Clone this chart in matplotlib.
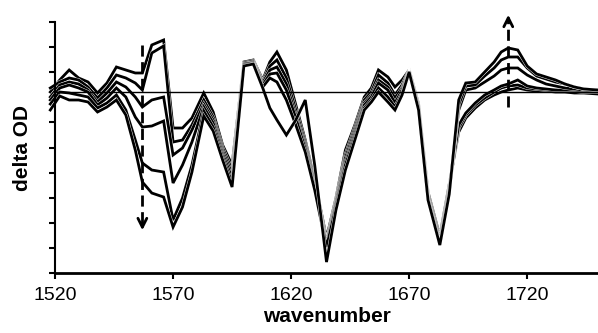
import numpy as np
import matplotlib
matplotlib.use('Agg')
import matplotlib.pyplot as plt
import matplotlib.patheffects as pe

plt.rcParams['font.family'] = ['Liberation Sans', 'DejaVu Sans']

# wavenumber of each data point (cm-1)
wavenumber = [1518, 1522, 1526, 1530, 1534, 1538, 1542, 1546, 1550, 1554,
              1557, 1561, 1566, 1570, 1574, 1578, 1583, 1587, 1591, 1595,
              1600, 1604, 1608, 1611, 1614, 1618, 1622, 1626, 1630, 1635,
              1639, 1643, 1647, 1651, 1654, 1657, 1661, 1664, 1667, 1670,
              1674, 1678, 1683, 1687, 1691, 1694, 1698, 1702, 1706, 1709,
              1712, 1716, 1720, 1724, 1728, 1732, 1736, 1740, 1744, 1750]

# difference spectra (arbitrary units)
spec1 = [0.0, 1.2, 2.2, 1.4, 1.0, -0.1, 0.9, 2.5, 2.2, 1.9,
         1.9, 4.7, 5.2, -3.6, -3.6, -2.6, -0.1, -2.0, -5.3, -7.3,
         3.0, 3.2, 1.2, 3.0, 4.0, 2.2, -1.3, -4.8, -8.8, -14.6,
         -10.6, -5.8, -3.3, -0.5, 0.4, 2.2, 1.5, 0.5, 1.2, 2.2,
         -1.2, -10.0, -14.4, -9.2, -4.0, -2.6, -1.6, -0.8, -0.3, 0.0,
         0.2, 0.4, 0.2, 0.1, 0.1, 0.0, 0.0, -0.1, -0.1, -0.2]
spec2 = [0.4, 1.0, 1.4, 1.2, 0.5, -0.6, 0.4, 1.7, 1.4, 0.9,
         0.2, 3.9, 4.6, -5.0, -4.8, -3.3, -0.8, -2.5, -5.6, -7.8,
         2.9, 3.1, 1.0, 2.6, 3.2, 1.4, -1.8, -5.1, -9.0, -15.0,
         -10.8, -6.3, -3.6, -0.8, 0.0, 1.7, 0.9, -0.3, 0.7, 2.2,
         -1.3, -10.2, -14.6, -9.4, -3.6, -2.3, -1.3, -0.6, 0.0, 0.4,
         0.6, 0.7, 0.4, 0.3, 0.2, 0.1, 0.1, 0.1, 0.0, 0.0]
spec3 = [-0.5, 0.7, 1.0, 0.8, 0.2, -1.0, -0.1, 1.0, 0.5, -0.5,
         -1.5, -0.8, -0.5, -6.3, -5.6, -3.8, -1.2, -2.8, -5.9, -8.2,
         2.8, 3.0, 0.9, 2.2, 2.5, 0.8, -2.3, -5.4, -9.3, -15.1,
         -11.0, -6.6, -3.9, -1.1, -0.3, 1.2, 0.5, -0.6, 0.4, 2.1,
         -1.4, -10.4, -14.8, -9.6, -3.3, -2.1, -1.1, -0.3, 0.2, 0.6,
         0.8, 1.2, 0.6, 0.4, 0.3, 0.2, 0.2, 0.2, 0.1, 0.1]
spec4 = [-0.8, 0.4, 0.7, 0.4, 0.0, -1.3, -0.6, 0.4, -0.5, -2.5,
         -3.5, -3.4, -2.9, -9.1, -7.3, -5.0, -1.5, -3.1, -6.2, -8.6,
         2.8, 2.9, 0.7, 1.8, 1.9, 0.2, -2.6, -5.7, -9.6, -15.3,
         -11.2, -7.0, -4.2, -1.3, -0.5, 0.9, 0.2, -1.1, 0.2, 2.1,
         -1.5, -10.6, -15.0, -9.8, -1.8, 0.2, 0.4, 1.0, 1.6, 2.2,
         2.4, 2.4, 1.7, 1.2, 0.8, 0.6, 0.4, 0.3, 0.2, 0.1]
spec5 = [-1.2, 0.0, -0.1, -0.3, -0.5, -1.6, -1.1, -0.3, -1.8, -4.8,
         -7.1, -7.8, -8.0, -12.8, -10.6, -7.3, -1.9, -3.5, -6.5, -9.1,
         2.7, 2.8, 0.5, 1.4, 1.0, -0.8, -3.3, -6.0, -9.8, -15.5,
         -11.5, -7.3, -4.5, -1.6, -0.8, 0.4, -0.5, -1.5, -0.1, 2.0,
         -1.6, -10.7, -15.2, -10.0, -1.3, 0.6, 0.7, 1.6, 2.4, 3.2,
         3.5, 3.5, 2.4, 1.6, 1.3, 1.0, 0.8, 0.5, 0.3, 0.2]
spec6 = [-1.8, -0.4, -0.8, -0.8, -1.0, -2.0, -1.5, -0.8, -2.3, -5.8,
         -9.0, -10.1, -10.5, -13.5, -11.5, -8.0, -2.4, -3.9, -6.8, -9.5,
         2.6, 2.8, 0.4, -1.6, -2.8, -4.3, -2.8, -0.8, -7.3, -17.0,
         -11.8, -7.8, -4.8, -1.8, -1.0, 0.0, -1.0, -1.8, -0.3, 2.0,
         -1.8, -10.8, -15.3, -10.2, -0.8, 0.9, 1.0, 2.0, 3.0, 4.0,
         4.4, 4.2, 2.6, 1.8, 1.5, 1.2, 0.8, 0.5, 0.3, 0.2]

spectra = [spec1, spec2, spec3, spec4, spec5, spec6]

fig = plt.figure(figsize=(5.98, 3.33), dpi=100)
ax = fig.add_axes([0.092, 0.18, 0.908, 0.754])

outline = [pe.withStroke(linewidth=2.6, foreground='white')]
for s in spectra:
    ax.plot(wavenumber, s, color='black', lw=2.0, clip_on=False,
            path_effects=outline, solid_joinstyle='miter')

# baseline
ax.axhline(0, color='black', lw=1.0, zorder=5)

# dashed arrows: decrease at 1557, increase at 1712
ax.plot([1557, 1557], [4.7, -13.4], color='black', lw=2.0,
        dashes=(4, 2), clip_on=False, zorder=6)
ax.annotate('', xy=(1557, -14.1), xytext=(1557, -12.8),
            arrowprops=dict(arrowstyle='->', color='black', lw=2.0,
                            mutation_scale=16), zorder=6)
ax.plot([1712, 1712], [-1.5, 7.4], color='black', lw=2.0,
        dashes=(4, 2), clip_on=False, zorder=6)
ax.annotate('', xy=(1712, 8.0), xytext=(1712, 6.8),
            arrowprops=dict(arrowstyle='->', color='black', lw=2.0,
                            mutation_scale=16), annotation_clip=False, zorder=6)

ax.set_xlim(1520, 1750)
ax.set_ylim(-18.1, 7.0)
ax.set_xticks([1520, 1570, 1620, 1670, 1720])
ax.set_yticks([7.0 - 2.51 * k for k in range(11)])
ax.set_yticklabels([])
ax.tick_params(axis='x', labelsize=14, length=4, width=1.5, direction='out', pad=6)
ax.tick_params(axis='y', length=4, width=1.5, direction='out')

for side in ['top', 'right']:
    ax.spines[side].set_visible(False)
ax.spines['left'].set_linewidth(1.5)
ax.spines['bottom'].set_linewidth(2.0)

ax.set_xlabel('wavenumber', fontsize=15, fontweight='bold', labelpad=2)
ax.set_ylabel('delta OD', fontsize=15, fontweight='bold', labelpad=9)

fig.savefig('out.png', dpi=100)
